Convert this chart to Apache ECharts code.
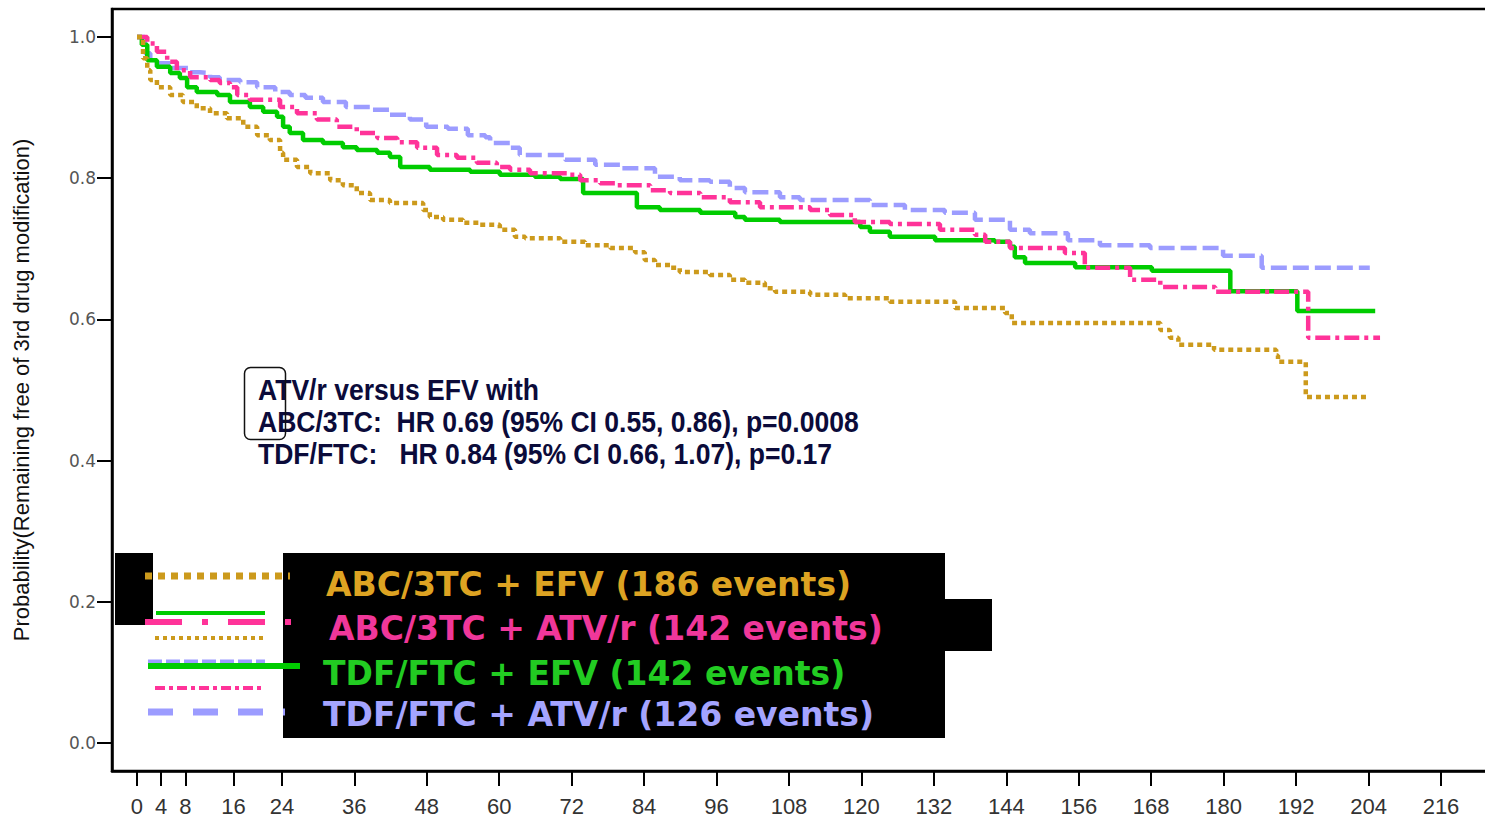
<!DOCTYPE html>
<html>
<head>
<meta charset="utf-8">
<script src="https://cdn.jsdelivr.net/npm/echarts@6/dist/echarts.min.js"></script>
<style>
  html, body { margin: 0; padding: 0; background: #ffffff; overflow: hidden; }
  #chart { width: 1485px; height: 818px; }
</style>
</head>
<body>
<div id="chart"></div>
<script>
// Kaplan-Meier estimates: [months since start, probability free of 3rd drug modification]
const monthTicks = [0, 4, 8, 16, 24, 36, 48, 60, 72, 84, 96, 108, 120, 132, 144, 156, 168, 180, 192, 204, 216];
const probTicks = [0, 0.2, 0.4, 0.6, 0.8, 1.0];

const seriesNames = ['ABC/3TC + EFV', 'ABC/3TC + ATV/r', 'TDF/FTC + EFV', 'TDF/FTC + ATV/r'];
const eventCounts = [186, 142, 142, 126];

const abcEfv = [
  [0, 1.000], [1.0, 0.970], [1.7, 0.953], [2.2, 0.939], [3.3, 0.929], [5.5, 0.918], [7.6, 0.908],
  [9.9, 0.899], [12.1, 0.892], [14.9, 0.885], [17.6, 0.873], [19.9, 0.861], [22.0, 0.854],
  [23.7, 0.836], [24.2, 0.826], [26.5, 0.816], [28.7, 0.807], [32.0, 0.797], [34.1, 0.790],
  [36.4, 0.779], [38.6, 0.769], [41.9, 0.765], [47.4, 0.755], [48.5, 0.745], [50.7, 0.741],
  [54.0, 0.737], [56.8, 0.734], [60.1, 0.727], [62.6, 0.717], [64.3, 0.715], [70.1, 0.710],
  [74.2, 0.705], [78.4, 0.701], [82.5, 0.695], [84.1, 0.684], [85.8, 0.677], [88.3, 0.673],
  [89.9, 0.667], [94.9, 0.663], [98.2, 0.656], [100.7, 0.652], [104.0, 0.644], [105.7, 0.639],
  [111.5, 0.635], [117.3, 0.630], [124.7, 0.625], [135.5, 0.616], [143.8, 0.609], [144.9, 0.595],
  [169.5, 0.585], [171.1, 0.574], [172.5, 0.564], [178.4, 0.557], [188.7, 0.549], [189.0, 0.540],
  [193.6, 0.490], [203.9, 0.490]
];

const abcAtv = [
  [0, 1.000], [1.7, 0.991], [3.3, 0.979], [5.0, 0.965], [6.6, 0.953], [8.8, 0.943], [12.1, 0.939],
  [13.7, 0.935], [15.4, 0.929], [16.6, 0.918], [18.7, 0.911], [23.7, 0.901], [26.5, 0.892],
  [29.8, 0.883], [33.1, 0.873], [36.4, 0.864], [39.8, 0.857], [43.1, 0.851], [46.4, 0.843],
  [49.7, 0.833], [53.0, 0.829], [56.3, 0.822], [59.6, 0.816], [61.8, 0.812], [65.1, 0.807],
  [71.7, 0.805], [73.4, 0.797], [76.7, 0.793], [79.2, 0.790], [85.0, 0.783], [88.3, 0.779],
  [93.3, 0.773], [98.2, 0.766], [103.2, 0.759], [111.5, 0.755], [114.8, 0.748], [118.9, 0.738],
  [124.7, 0.735], [133.0, 0.727], [138.8, 0.720], [140.5, 0.710], [144.6, 0.701], [153.7, 0.694],
  [157.0, 0.673], [164.5, 0.656], [169.5, 0.646], [178.6, 0.639], [194.0, 0.574], [205.9, 0.574]
];

const tdfEfv = [
  [0, 1.000], [0.8, 0.989], [1.7, 0.967], [3.3, 0.958], [5.5, 0.949], [7.1, 0.942], [8.3, 0.929],
  [9.9, 0.922], [13.3, 0.918], [15.4, 0.908], [18.7, 0.901], [20.9, 0.894], [23.2, 0.887],
  [24.2, 0.873], [25.3, 0.864], [27.5, 0.854], [30.8, 0.850], [34.1, 0.844], [36.4, 0.840],
  [39.8, 0.836], [41.9, 0.830], [43.6, 0.816], [48.5, 0.812], [55.2, 0.809], [60.1, 0.805],
  [65.9, 0.802], [70.1, 0.799], [73.9, 0.779], [82.8, 0.759], [86.6, 0.755], [93.3, 0.751],
  [99.1, 0.745], [100.7, 0.741], [106.5, 0.738], [119.8, 0.731], [121.4, 0.724], [124.7, 0.717],
  [132.2, 0.712], [142.1, 0.710], [144.6, 0.703], [145.4, 0.688], [147.1, 0.680], [155.4, 0.674],
  [168.1, 0.669], [181.1, 0.640], [192.2, 0.612], [205.1, 0.612]
];

const tdfAtv = [
  [0, 1.000], [1.3, 0.977], [2.2, 0.963], [5.5, 0.956], [8.8, 0.950], [10.4, 0.949], [12.1, 0.943],
  [13.7, 0.939], [17.1, 0.936], [19.9, 0.929], [22.9, 0.922], [25.3, 0.918], [27.9, 0.914],
  [30.8, 0.908], [34.6, 0.901], [38.6, 0.897], [41.9, 0.890], [45.2, 0.883], [47.9, 0.873],
  [51.5, 0.870], [54.8, 0.861], [57.7, 0.858], [58.5, 0.850], [61.8, 0.843], [63.4, 0.833],
  [70.9, 0.826], [75.9, 0.819], [80.0, 0.814], [85.8, 0.802], [89.9, 0.797], [94.9, 0.795],
  [98.2, 0.786], [100.7, 0.780], [106.5, 0.773], [109.8, 0.769], [121.4, 0.762], [127.2, 0.755],
  [133.8, 0.751], [138.8, 0.741], [144.6, 0.727], [147.9, 0.722], [154.2, 0.712], [159.5, 0.705],
  [167.8, 0.701], [179.9, 0.690], [186.3, 0.673], [204.2, 0.673]
];

const annotationLines = [
  'ATV/r versus EFV with',
  'ABC/3TC:  HR 0.69 (95% CI 0.55, 0.86), p=0.0008',
  'TDF/FTC:   HR 0.84 (95% CI 0.66, 1.07), p=0.17'
];

// ---- styling ----
const lineColors = ['#CC9A1C', '#FF3399', '#00CC00', '#9C9CFF'];
const legendTextColors = ['#DDA322', '#F0379A', '#22CC22', '#A4A4FF'];
const lineDashes = [[5, 4], [15, 5, 4, 5], null, [16, 6]];
const curves = [abcEfv, abcAtv, tdfEfv, tdfAtv];

const chart = echarts.init(document.getElementById('chart'), null, { renderer: 'svg' });

const series = curves.map((data, i) => ({
  name: seriesNames[i],
  type: 'line',
  step: 'end',
  data: data,
  showSymbol: false,
  silent: true,
  z: 4 - i,
  lineStyle: {
    color: lineColors[i],
    width: 4.5,
    type: lineDashes[i] || 'solid',
    cap: 'butt'
  }
}));

// legend swatches drawn beside the legend box
const swatches = [
  { x1: 145, x2: 290, y: 576, c: 0, w: 7, dash: [7, 6] },
  { x1: 156, x2: 265, y: 613, c: 2, w: 4, dash: null },
  { x1: 145, x2: 298, y: 622, c: 1, w: 6, dash: [37, 20, 6, 20] },
  { x1: 155, x2: 265, y: 638, c: 0, w: 4, dash: [4, 4] },
  { x1: 148, x2: 265, y: 662, c: 3, w: 5, dash: [14, 4] },
  { x1: 148, x2: 300, y: 666, c: 2, w: 6, dash: null },
  { x1: 155, x2: 262, y: 688, c: 1, w: 4, dash: [10, 4, 4, 4] },
  { x1: 148, x2: 285, y: 712, c: 3, w: 7, dash: [25, 20] }
];

const graphics = [];
// black legend panels
graphics.push({ type: 'rect', shape: { x: 115, y: 553, width: 38, height: 72 }, style: { fill: '#000' }, z: 10 });
graphics.push({ type: 'rect', shape: { x: 283, y: 553, width: 662, height: 185 }, style: { fill: '#000' }, z: 10 });
graphics.push({ type: 'rect', shape: { x: 938, y: 599, width: 54, height: 52 }, style: { fill: '#000' }, z: 10 });

swatches.forEach(s => {
  graphics.push({
    type: 'line',
    shape: { x1: s.x1, y1: s.y, x2: s.x2, y2: s.y },
    style: { stroke: lineColors[s.c], lineWidth: s.w, lineDash: s.dash, lineCap: 'butt' },
    z: 11
  });
});

const legendRows = [
  { x: 326, y: 584 },
  { x: 329, y: 628 },
  { x: 323, y: 673 },
  { x: 323, y: 714 }
];
legendRows.forEach((r, i) => {
  graphics.push({
    type: 'text',
    x: r.x, y: r.y,
    style: {
      text: seriesNames[i] + ' (' + eventCounts[i] + ' events)',
      fill: legendTextColors[i],
      font: 'bold 33px "DejaVu Sans", sans-serif',
      align: 'left', verticalAlign: 'middle',
      textAlign: 'left', textVerticalAlign: 'middle'
    },
    z: 12
  });
});

// hazard ratio annotation (condensed bold sans)
annotationLines.forEach((t, i) => {
  graphics.push({
    type: 'text',
    x: 258, y: 390 + i * 32,
    scaleX: 0.915,
    style: {
      text: t,
      fill: '#0B0B3A',
      font: 'bold 29px "Liberation Sans", Arial, sans-serif',
      align: 'left', verticalAlign: 'middle',
      textAlign: 'left', textVerticalAlign: 'middle'
    },
    z: 12
  });
});
graphics.push({
  type: 'rect',
  shape: { x: 244.5, y: 367.5, width: 41, height: 72, r: 6 },
  style: { fill: 'none', stroke: '#111', lineWidth: 1.5 },
  z: 12
});

const option = {
  animation: false,
  backgroundColor: '#ffffff',
  grid: {
    left: 112, top: 9, width: 1393, bottom: 47,
    outerBoundsMode: 'none',
    containLabel: false,
    show: true, borderColor: '#000', borderWidth: 2.5, backgroundColor: 'transparent'
  },
  xAxis: {
    type: 'value',
    min: -4.141,
    max: 226.6,
    splitLine: { show: false },
    axisLine: { show: true, onZero: false, lineStyle: { color: '#000', width: 2.5 } },
    axisTick: { show: true, customValues: monthTicks, length: 15, lineStyle: { color: '#000', width: 2 } },
    axisLabel: {
      customValues: monthTicks,
      margin: 24,
      color: '#333',
      fontSize: 22,
      lineHeight: 22,
      fontFamily: '"Liberation Sans", Arial, sans-serif',
      showMinLabel: true, showMaxLabel: true
    }
  },
  yAxis: {
    type: 'value',
    min: -0.0397,
    max: 1.0397,
    splitLine: { show: false },
    name: 'Probability(Remaining free of 3rd drug modification)',
    nameLocation: 'middle',
    nameRotate: 90,
    nameGap: 80,
    nameTextStyle: {
      color: '#111',
      fontSize: 22,
      fontFamily: '"Liberation Sans", Arial, sans-serif'
    },
    axisLine: { show: true, onZero: false, lineStyle: { color: '#000', width: 2.5 } },
    axisTick: { show: true, customValues: probTicks, length: 15, lineStyle: { color: '#000', width: 2 } },
    axisLabel: {
      customValues: probTicks,
      margin: 16,
      color: '#555',
      fontSize: 17,
      fontFamily: '"DejaVu Sans", sans-serif',
      formatter: v => v.toFixed(1)
    }
  },
  series: series,
  graphic: graphics
};

chart.setOption(option);
</script>
</body>
</html>
